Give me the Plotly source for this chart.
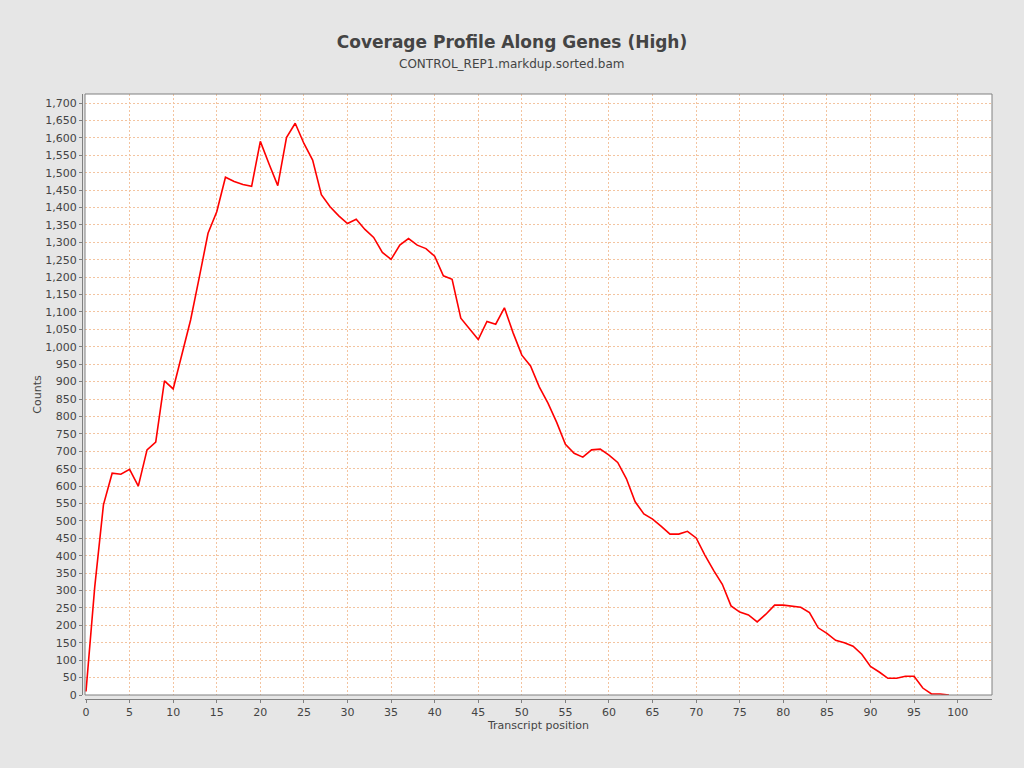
import plotly.graph_objects as go

# transcript position (0..99) and read coverage counts
position = list(range(100))
counts = [
    10, 310, 546, 637, 634, 648, 600, 704, 726, 902,
    879, 976, 1077, 1200, 1326, 1388, 1487, 1475, 1466, 1461,
    1590, 1525, 1463, 1601, 1642, 1584, 1536, 1437, 1402, 1376,
    1354, 1366, 1337, 1314, 1271, 1251, 1292, 1311, 1292, 1282,
    1260, 1204, 1194, 1082, 1050, 1021, 1073, 1065, 1112, 1040,
    976, 945, 885, 838, 783, 720, 694, 683, 704, 706,
    689, 668, 621, 555, 520, 505, 484, 462, 462, 470,
    451, 402, 358, 318, 256, 238, 230, 210, 232, 258,
    258, 255, 252, 237, 193, 177, 157, 150, 140, 117,
    82, 66, 48, 48, 54, 54, 20, 3, 3, 0,
]

title = "Coverage Profile Along Genes (High)"
subtitle = "CONTROL_REP1.markdup.sorted.bam"

font = "DejaVu Sans"
grid = "rgb(243,196,160)"
axis_col = "#808080"

fig = go.Figure()
fig.add_trace(go.Scatter(x=position, y=counts, mode="lines",
                         line=dict(color="#ff0000", width=1.6),
                         showlegend=False))

fig.update_layout(
    width=1024, height=768,
    margin=dict(l=82, r=32, t=94, b=69),
    paper_bgcolor="#e6e6e6",
    plot_bgcolor="white",
    font=dict(family=font, size=11, color="#444444"),
    title=dict(text=title, x=0.5, xanchor="center", y=0.945, yanchor="middle",
               font=dict(family=font, size=17, color="#444444", weight="bold")),
    xaxis=dict(
        domain=[0.0033, 1], anchor="free", position=0,
        range=[-0.115, 103.94], dtick=5, tick0=0,
        showline=True, linecolor=axis_col, linewidth=1,
        ticks="outside", ticklen=3, tickcolor=axis_col,
        showgrid=True, gridcolor=grid, griddash="2px,2px", gridwidth=1,
        zeroline=False,
        title=dict(text="Transcript position", font=dict(size=11), standoff=2),
    ),
    yaxis=dict(
        domain=[0.0066, 1], anchor="free", position=0,
        range=[0, 1726], dtick=50, tick0=0, tickformat=",d",
        showline=True, linecolor=axis_col, linewidth=1,
        ticks="outside", ticklen=3, tickcolor=axis_col,
        showgrid=True, gridcolor=grid, griddash="2px,2px", gridwidth=1,
        zeroline=False,
        title=dict(text="Counts", font=dict(size=11), standoff=0),
    ),
    # subtitle centred on the page (paper area is offset by the margins)
    annotations=[dict(text=subtitle, xref="paper", yref="paper",
                      x=(512 - 82) / 910, y=1.05, xanchor="center", yanchor="middle",
                      showarrow=False, font=dict(size=12, color="#444444"))],
    shapes=[dict(type="rect", xref="x domain", yref="y domain",
                 x0=0, x1=1, y0=0, y1=1,
                 line=dict(color=axis_col, width=1), layer="above")],
)

fig.write_html("out.html", config={"displayModeBar": False},
               post_script="document.body.style.margin='0';document.body.style.overflow='hidden';")
